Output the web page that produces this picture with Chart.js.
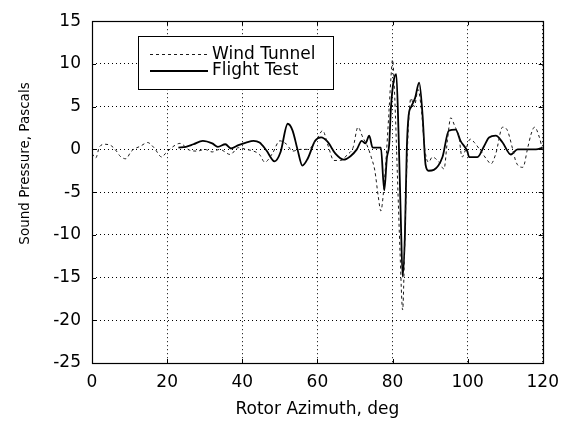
<!DOCTYPE html>
<html>
<head>
<meta charset="utf-8">
<script src="https://cdn.jsdelivr.net/npm/chart.js@4/dist/chart.umd.min.js"></script>
<style>
html,body{margin:0;padding:0;background:#fff;}
#wrap{width:568px;height:424px;position:relative;}
</style>
</head>
<body>
<div id="wrap"><canvas id="c" width="568" height="424"></canvas></div>
<script>
// ---- data ----
const seriesNames = ["Wind Tunnel", "Flight Test"];
const xTitle = "Rotor Azimuth, deg";
const yTitle = "Sound Pressure, Pascals";

const windX = [0,1,2,3.5,5.2,6.5,7.5,9,10.5,13,14.8,16.5,18.6,19.5,21.5,23.4,26,28,30,32,34,36.8,39,41,43,44.6,46,48,50,51.8,53.4,55.5,57.5,60.1,61.4,62.8,64.4,66.2,68,69.5,70.8,72.1,73.2,74.4,75.3,76.2,76.9,77.6,78.3,79.0,79.6,80.0,80.6,81.3,82.0,82.7,83.2,83.8,84.4,84.9,85.8,86.8,87.6,88.6,89.6,90.6,92.4,93.7,94.6,95.5,96.5,97.7,98.5,99.5,100.7,101.8,103.5,105.3,106.2,107.5,109.3,110.6,112.0,112.9,114.7,116.0,116.9,117.8,119.1,120];
const windY = [-0.5,-1.0,0.3,0.6,0.4,-0.2,-0.8,-1.1,-0.2,0.4,0.8,0.2,-0.9,-0.5,0.3,0.7,-0.1,-0.2,0.0,-0.3,0.0,-0.6,0.2,0.0,-0.2,-0.6,-1.5,-0.5,1.0,0.6,-0.2,0.0,0.0,1.4,2.2,0.5,-1.3,-1.3,-0.6,0.2,2.6,1.4,0.5,-1.0,-2.5,-5.5,-7.2,-5.0,-1.0,4.0,8.5,10.5,6.0,-3.0,-12.0,-18.8,-12.0,-2.0,4.0,6.0,5.0,7.0,5.0,0.0,-1.5,-0.9,-1.5,-2.3,1.0,3.7,2.8,1.4,-0.9,0.0,1.2,0.8,-0.2,-1.3,-1.7,-0.5,2.6,2.2,0.0,-1.5,-2.1,0.2,1.8,2.6,1.4,-0.2];

const flightX = [23,25,27,29.5,32,33.5,35.5,37,39,41,43,44.6,46.4,48.6,50.2,52.1,53.4,54.7,56.0,57.4,59.4,61,62.7,64.8,67,68.8,70.5,71.8,72.8,73.8,74.7,76.9,77.8,78.5,79.1,79.6,80.3,81.0,81.6,82.2,82.7,83.3,83.8,84.3,85.0,86.0,87.1,88.0,88.8,89.6,91.0,93.3,95.0,96.8,98.1,99.9,100.4,102.6,104.4,105.7,107.5,109.3,111.5,113.3,115.5,118.2,120];
const flightY = [0.2,0.3,0.6,1.0,0.7,0.3,0.6,0.1,0.5,0.8,1.0,0.8,-0.1,-1.4,-0.3,3.0,2.2,0.0,-1.9,-1.1,1.0,1.4,0.9,-0.5,-1.2,-0.8,0.0,1.0,0.7,1.6,0.2,0.2,-4.8,-1.0,0.5,5.0,8.0,8.8,2.0,-8.0,-14.9,-10.0,0.0,4.0,5.0,6.0,7.8,4.0,-1.8,-2.5,-2.4,-0.9,2.2,2.3,1.0,-0.2,-0.9,-0.9,0.4,1.4,1.6,0.8,-0.6,0.0,0.0,0.0,0.2];

const xTicks = [0,20,40,60,80,100,120];
const yTicks = [15,10,5,0,-5,-10,-15,-20,-25];

// ---- build ----
const toPts = (xs, ys) => xs.map((x, i) => ({x: x, y: ys[i]}));
const FONT = "'DejaVu Sans', 'Liberation Sans', sans-serif";

const frame = {
  id: 'frame',
  afterDatasetsDraw(chart) {
    const {ctx, chartArea: a, scales} = chart;
    ctx.save();
    // inward tick marks
    ctx.strokeStyle = '#000';
    ctx.lineWidth = 1;
    ctx.beginPath();
    xTicks.forEach(v => {
      const px = Math.round(scales.x.getPixelForValue(v)) + 0.5;
      ctx.moveTo(px, a.bottom); ctx.lineTo(px, a.bottom - 4);
      ctx.moveTo(px, a.top); ctx.lineTo(px, a.top + 4);
    });
    yTicks.forEach(v => {
      const py = Math.round(scales.y.getPixelForValue(v)) + 0.5;
      ctx.moveTo(a.left, py); ctx.lineTo(a.left + 4, py);
      ctx.moveTo(a.right, py); ctx.lineTo(a.right - 4, py);
    });
    ctx.stroke();
    // frame
    ctx.lineWidth = 1.2;
    ctx.strokeRect(Math.round(a.left) + 0.5, Math.round(a.top) + 0.5, Math.round(a.right - a.left), Math.round(a.bottom - a.top));

    // legend box
    const bx = 138, by = 36, bw = 195, bh = 53;
    ctx.fillStyle = '#fff';
    ctx.fillRect(bx, by, bw, bh);
    ctx.lineWidth = 1;
    ctx.strokeRect(bx + 0.5, by + 0.5, bw, bh);
    const rows = [54.5, 71];
    chart.data.datasets.forEach((ds, i) => {
      ctx.save();
      ctx.strokeStyle = ds.borderColor;
      ctx.lineWidth = ds.borderWidth;
      ctx.setLineDash(ds.borderDash || []);
      ctx.beginPath();
      ctx.moveTo(150, rows[i]); ctx.lineTo(208, rows[i]);
      ctx.stroke();
      ctx.restore();
      ctx.fillStyle = '#000';
      ctx.font = "17px " + FONT;
      ctx.textBaseline = 'middle';
      ctx.textAlign = 'left';
      ctx.fillText(ds.label, 212, rows[i]);
    });

    // y-axis title
    ctx.save();
    ctx.translate(25, 163.5);
    ctx.rotate(-Math.PI / 2);
    ctx.fillStyle = '#000';
    ctx.font = "13.5px " + FONT;
    ctx.textAlign = 'center';
    ctx.textBaseline = 'middle';
    ctx.fillText(yTitle, 0, 0);
    ctx.restore();
    ctx.restore();
  }
};

new Chart(document.getElementById('c'), {
  type: 'scatter',
  data: {
    datasets: [
      {
        label: seriesNames[0],
        data: toPts(windX, windY),
        showLine: true,
        borderColor: '#1a1a1a',
        borderWidth: 1,
        borderDash: [3, 3],
        pointRadius: 0,
        cubicInterpolationMode: 'monotone',
        fill: false
      },
      {
        label: seriesNames[1],
        data: toPts(flightX, flightY),
        showLine: true,
        borderColor: '#000',
        borderWidth: 1.8,
        pointRadius: 0,
        cubicInterpolationMode: 'monotone',
        fill: false
      }
    ]
  },
  options: {
    responsive: false,
    animation: false,
    layout: {padding: {top: 20, right: 24, left: 0, bottom: 0}},
    plugins: {legend: {display: false}, tooltip: {enabled: false}},
    scales: {
      x: {
        type: 'linear',
        min: 0, max: 120,
        afterBuildTicks: s => { s.ticks = xTicks.map(v => ({value: v})); },
        afterFit: s => { s.height = 61; },
        grid: {color: '#000', lineWidth: 1, drawTicks: false, borderDash: [1, 3]},
        border: {display: false, dash: [1, 3]},
        ticks: {color: '#000', font: {family: FONT, size: 17}, padding: 9, maxRotation: 0},
        title: {display: true, text: xTitle, color: '#000', font: {family: FONT, size: 17}, padding: {top: 0, bottom: 4}}
      },
      y: {
        type: 'linear',
        min: -25, max: 15,
        afterBuildTicks: s => { s.ticks = yTicks.map(v => ({value: v})); },
        afterFit: s => { s.width = 92; },
        grid: {color: '#000', lineWidth: 1, drawTicks: false},
        border: {display: false, dash: [1, 3]},
        ticks: {color: '#000', font: {family: FONT, size: 17}, padding: 11},
        title: {display: false}
      }
    }
  },
  plugins: [frame]
});
</script>
</body>
</html>
